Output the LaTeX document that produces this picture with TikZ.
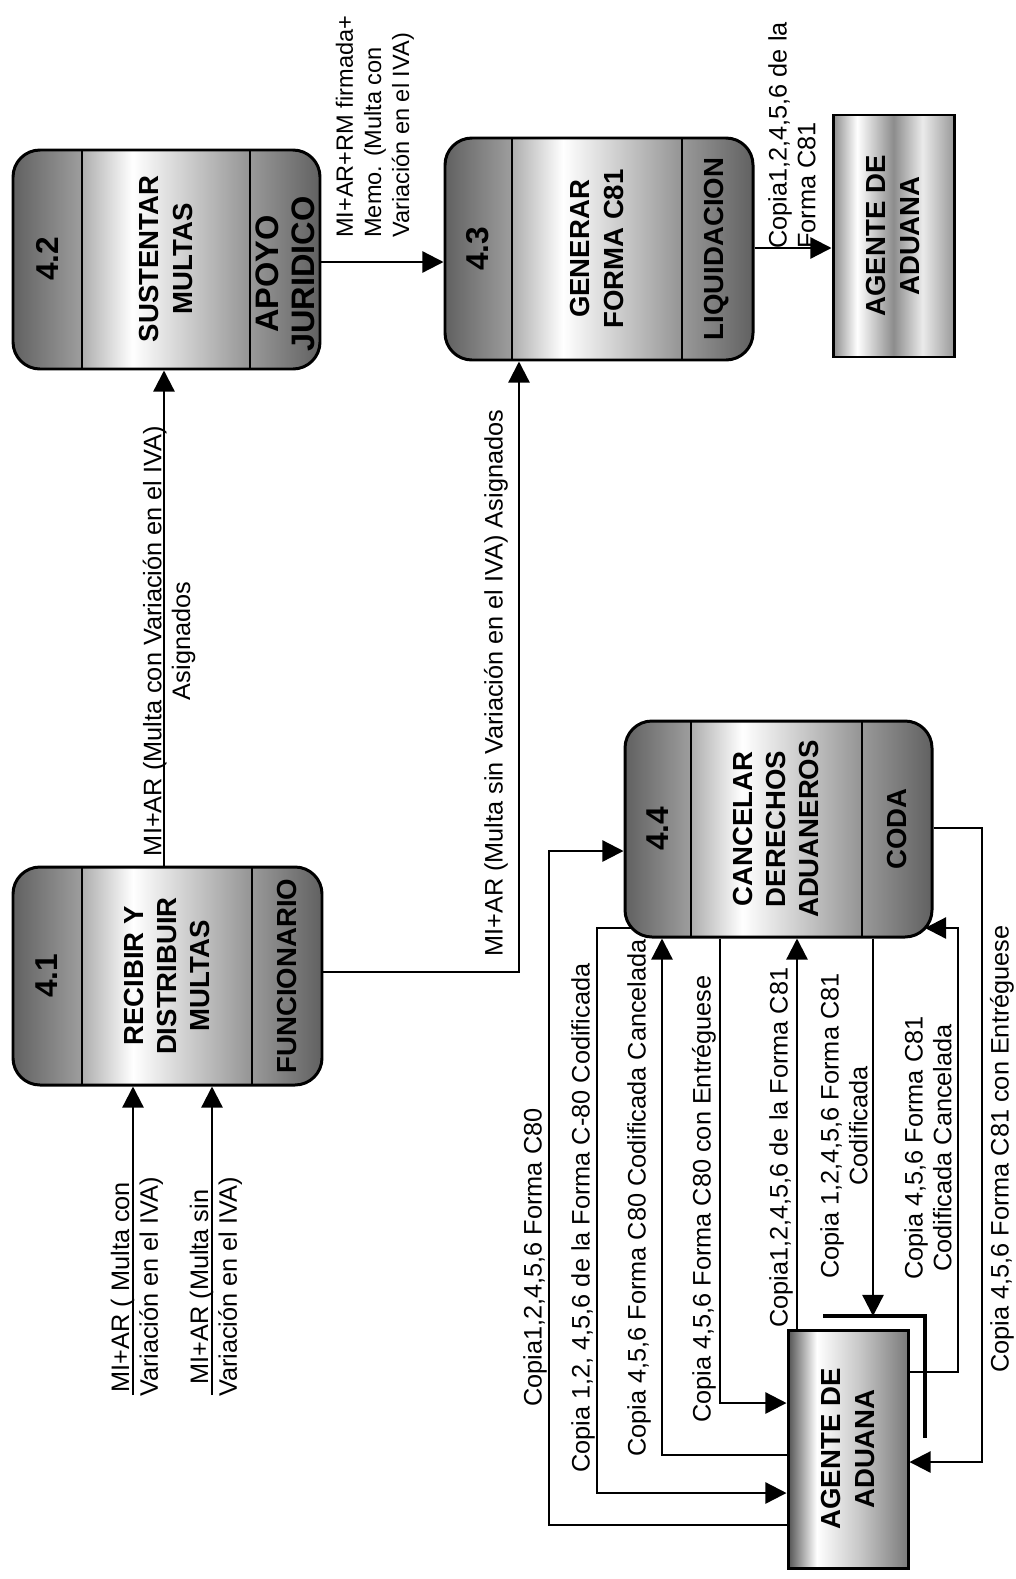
\documentclass[tikz,border=0pt]{standalone}
\usepackage{fontspec}
\setmainfont{Liberation Sans}
\usetikzlibrary{arrows.meta,fit}

\pgfdeclarehorizontalshading{stripL}{100bp}{color(0bp)=(black!62); color(25bp)=(black!62); color(75bp)=(black!38); color(100bp)=(black!38)}
\pgfdeclarehorizontalshading{stripM}{100bp}{color(0bp)=(black!32); color(25bp)=(black!32); color(40bp)=(white); color(75bp)=(black!42); color(100bp)=(black!42)}
\pgfdeclarehorizontalshading{stripR}{100bp}{color(0bp)=(black!40); color(25bp)=(black!40); color(75bp)=(black!62); color(100bp)=(black!62)}
\pgfdeclarehorizontalshading{agentA}{100bp}{color(0bp)=(black!45); color(25bp)=(black!45); color(35bp)=(white); color(50bp)=(black!45); color(62bp)=(black!8); color(75bp)=(black!40); color(100bp)=(black!40)}
\pgfdeclarehorizontalshading{agentB}{100bp}{color(0bp)=(black!68); color(25bp)=(black!68); color(37bp)=(white); color(55bp)=(black!22); color(75bp)=(black!52); color(100bp)=(black!52)}

\tikzset{
  flow/.style={line width=1.3pt, -{Triangle[length=12pt,width=12pt]}},
  procbox/.style={draw, line width=1.7pt, rounded corners=0.54cm, inner sep=0pt},
  agentbox/.style={draw, line width=1.7pt, inner sep=0pt, shade},
  lbl/.style={rotate=90, inner sep=0pt, font={\fontsize{14.4}{16.4}\selectfont}},
  ttl/.style={rotate=90, inner sep=0pt, align=center, font={\bfseries\fontsize{15.7}{19}\selectfont}},
  num/.style={rotate=90, inner sep=0pt, font={\bfseries\fontsize{18}{20}\selectfont}},
}

\newcommand{\mkproc}[7]{%
  \begin{scope}
    \clip[rounded corners=0.54cm] (#1,#2) rectangle (#3,#4);
    \shade[shading=stripL] (#1,#2) rectangle (#5,#4);
    \shade[shading=stripM] (#5,#2) rectangle (#6,#4);
    \shade[shading=stripR] (#6,#2) rectangle (#3,#4);
  \end{scope}
  \draw[line width=0.9pt] (#5,#2) -- (#5,#4) (#6,#2) -- (#6,#4);
  \node[procbox, fit={(#1,#2) (#3,#4)}] (#7) {};
}

\begin{document}
\begin{tikzpicture}[x=0.02cm, y=-0.02cm]
\useasboundingbox[fill=white] (0,0) rectangle (1015,1579);

% process boxes
\mkproc{13}{867}{322}{1085}{82}{252}{p41}
\mkproc{13}{150}{320}{369}{82}{250}{p42}
\mkproc{445}{138}{753}{360}{512}{682}{p43}
\mkproc{625}{721}{932}{937}{691}{862}{p44}

% external entities
\node[agentbox, shading=agentA, fit={(833,115) (954,357)}] (ag1) {};
\node[agentbox, shading=agentB, fit={(788,1330) (908,1568)}] (ag2) {};
\draw[line width=2.2pt] (823,1316) -- (925,1316) -- (925,1438);

% texts in boxes
\node[num] (n41) at (47,976) {4.1};
\node[ttl] (t41) at (167,976) {RECIBIR Y\\DISTRIBUIR\\MULTAS};
\node[ttl] (r41) at (287,976) {FUNCIONARIO};

\node[num] (n42) at (47,259) {4.2};
\node[ttl] (t42) at (166,259) {SUSTENTAR\\MULTAS};
\node[ttl, font={\bfseries\fontsize{18.5}{20.5}\selectfont}] (r42) at (285,274) {APOYO\\JURIDICO};

\node[num] (n43) at (478,249) {4.3};
\node[ttl] (t43) at (597,249) {GENERAR\\FORMA C81};
\node[ttl] (r43) at (717,249) {LIQUIDACION};

\node[num] (n44) at (658,829) {4.4};
\node[ttl] (t44) at (776,829) {CANCELAR\\DERECHOS\\ADUANEROS};
\node[ttl] (r44) at (897,829) {CODA};

\node[ttl] (tag1) at (893,236) {AGENTE DE\\ADUANA};
\node[ttl] (tag2) at (848,1449) {AGENTE DE\\ADUANA};

% helper coordinates
\coordinate (in1) at (133,1395);
\coordinate (in2) at (212,1395);
\coordinate (xc) at (164,0);
\coordinate (yd) at (0,262);
\coordinate (ye) at (0,248);
\coordinate (yf) at (0,972);
\coordinate (xf) at (519,0);

% top connectors
\draw[flow] (in1) -- (p41.south -| in1);
\draw[flow] (in2) -- (p41.south -| in2);
\draw[flow] (p41.north -| xc) -- (p42.south -| xc);
\draw[flow] (p42.east |- yd) -- (p43.west |- yd);
\draw[flow] (p43.east |- ye) -- (ag1.west |- ye);
\draw[flow] (p41.east |- yf) -| (p43.south -| xf);

% bottom connectors
\coordinate (ya) at (0,1525);
\coordinate (xa) at (549,0);
\coordinate (yab) at (0,851);
\draw[flow] (ag2.west |- ya) -| (xa |- yab) -- (p44.west |- yab);

\coordinate (sb) at (632,928);
\coordinate (xb) at (597,0);
\coordinate (yb) at (0,1493);
\draw[flow] (sb) -| (xb |- yb) -- (ag2.west |- yb);

\coordinate (yc) at (0,1455);
\coordinate (xcc) at (662,0);
\draw[flow] (ag2.west |- yc) -| (p44.south -| xcc);

\coordinate (xd) at (720,0);
\coordinate (ydd) at (0,1403);
\draw[flow] (p44.south -| xd) |- (ag2.west |- ydd);

\coordinate (xe) at (797,0);
\draw[flow] (ag2.north -| xe) -- (p44.south -| xe);

\coordinate (xff) at (873,0);
\coordinate (dup) at (0,1316);
\draw[flow] (p44.south -| xff) -- (xff |- dup);

\coordinate (tg) at (925,928);
\coordinate (yg) at (0,1372);
\coordinate (xg) at (958,0);
\draw[flow] (ag2.east |- yg) -| (xg |- tg) -- (tg);

\coordinate (yh1) at (0,828);
\coordinate (xh) at (982,0);
\coordinate (yh2) at (0,1462);
\draw[flow] (p44.east |- yh1) -| (xh |- yh2) -- (ag2.east |- yh2);

% labels
\node[lbl, align=center] (L1) at (137,1287) {MI+AR ( Multa con\\Variación en el IVA)};
\node[lbl, align=center] (L2) at (216,1287) {MI+AR (Multa sin\\Variación en el IVA)};
\node[lbl, align=center] (L3) at (169,641) {MI+AR (Multa con Variación en el IVA)\\Asignados};
\node[lbl, anchor=west] (L4) at (496,957) {MI+AR (Multa sin Variación en el IVA) Asignados};
\node[lbl, anchor=west, align=left, font={\fontsize{13.4}{16}\selectfont}] (L5) at (375,238) {MI+AR+RM firmada+\\Memo. (Multa con\\Variación en el IVA)};
\node[lbl, anchor=west, align=left] (L6) at (792,249) {Copia1,2,4,5,6 de la\\Forma C81};

\node[lbl, anchor=west] (La) at (535,1407) {Copia1,2,4,5,6 Forma C80};
\node[lbl, anchor=west] (Lb) at (583,1473) {Copia 1,2, 4,5,6 de la Forma C-80 Codificada};
\node[lbl, anchor=west] (Lc) at (639,1457) {Copia 4,5,6 Forma C80 Codificada Cancelada};
\node[lbl, anchor=west] (Ld) at (704,1423) {Copia 4,5,6 Forma C80 con Entréguese};
\node[lbl, anchor=west] (Le) at (781,1328) {Copia1,2,4,5,6 de la Forma C81};
\node[lbl, align=center] (Lf) at (844,1126) {Copia 1,2,4,5,6 Forma C81\\Codificada};
\node[lbl, align=center] (Lg) at (928,1148) {Copia 4,5,6 Forma C81\\Codificada Cancelada};
\node[lbl, anchor=west] (Lh) at (1002,1373) {Copia 4,5,6 Forma C81 con Entréguese};
\end{tikzpicture}
\end{document}
